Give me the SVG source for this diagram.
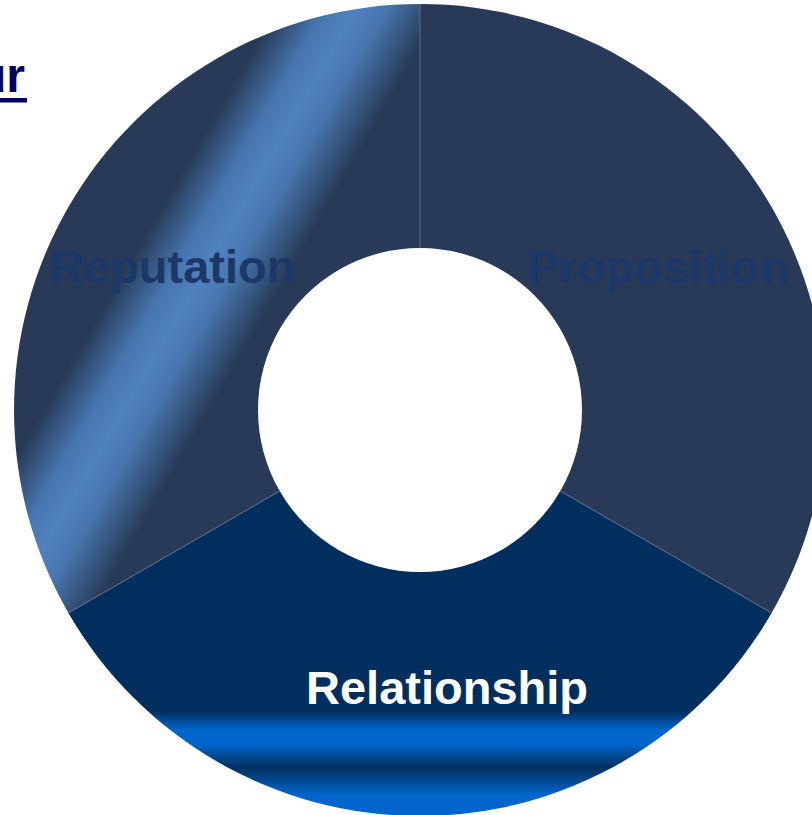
<svg xmlns="http://www.w3.org/2000/svg" width="812" height="815" viewBox="0 0 812 815">
  <style>
    .label { font-family: "Liberation Sans", Arial, sans-serif; font-weight: bold; font-size: 47px; }
    .muted { fill: #1B3868; }
    .light { fill: #FFFFFF; }
    .divider { stroke: #5C6F8C; stroke-width: 1; fill: none; }
  </style>
  <defs>
    <!-- diagonal highlight band across the Reputation segment -->
    <linearGradient id="repBand" gradientUnits="userSpaceOnUse" x1="268" y1="24" x2="392" y2="96">
      <stop offset="0" stop-color="#283A57"/>
      <stop offset="0.3" stop-color="#4776AF"/>
      <stop offset="0.48" stop-color="#5082BE"/>
      <stop offset="0.66" stop-color="#4776AF"/>
      <stop offset="1" stop-color="#283A57"/>
    </linearGradient>
    <!-- horizontal bright bands near the bottom of the Relationship segment -->
    <linearGradient id="relBands" gradientUnits="userSpaceOnUse" x1="0" y1="690" x2="0" y2="815">
      <stop offset="0" stop-color="#002E5E"/>
      <stop offset="0.17" stop-color="#002E5E"/>
      <stop offset="0.32" stop-color="#0066CC"/>
      <stop offset="0.43" stop-color="#0066CC"/>
      <stop offset="0.62" stop-color="#00305F"/>
      <stop offset="0.84" stop-color="#0066CC"/>
      <stop offset="1" stop-color="#0066CC"/>
    </linearGradient>
  </defs>

  <!-- partial heading at the top-left edge -->
  <g id="heading">
    <text x="25" y="92" text-anchor="end" font-family="Liberation Sans, Arial, sans-serif" font-weight="bold" font-size="48" fill="#000066">ur</text>
    <rect x="0" y="98" width="27" height="4.5" fill="#000066"/>
  </g>

  <!-- ring segments: centre (420,410), outer r 406, inner r 162 -->
  <g id="proposition">
    <path d="M420 4 A406 406 0 0 1 771.6 613 L560.3 491 A162 162 0 0 0 420 248 Z" fill="#283A57"/>
    <text class="label muted" x="527" y="283">Proposition</text>
  </g>

  <g id="relationship">
    <path d="M771.6 613 A406 406 0 0 1 68.4 613 L279.7 491 A162 162 0 0 0 560.3 491 Z" fill="url(#relBands)"/>
    <text class="label light" x="306" y="704">Relationship</text>
  </g>

  <g id="reputation">
    <path d="M68.4 613 A406 406 0 0 1 420 4 L420 248 A162 162 0 0 0 279.7 491 Z" fill="url(#repBand)"/>
    <text class="label muted" x="50" y="283">Reputation</text>
  </g>

  <!-- thin radial separators between the segments -->
  <g id="connectors">
    <line class="divider" x1="420" y1="4" x2="420" y2="248"/>
    <line class="divider" x1="771.6" y1="613" x2="560.3" y2="491"/>
    <line class="divider" x1="68.4" y1="613" x2="279.7" y2="491"/>
  </g>
</svg>
